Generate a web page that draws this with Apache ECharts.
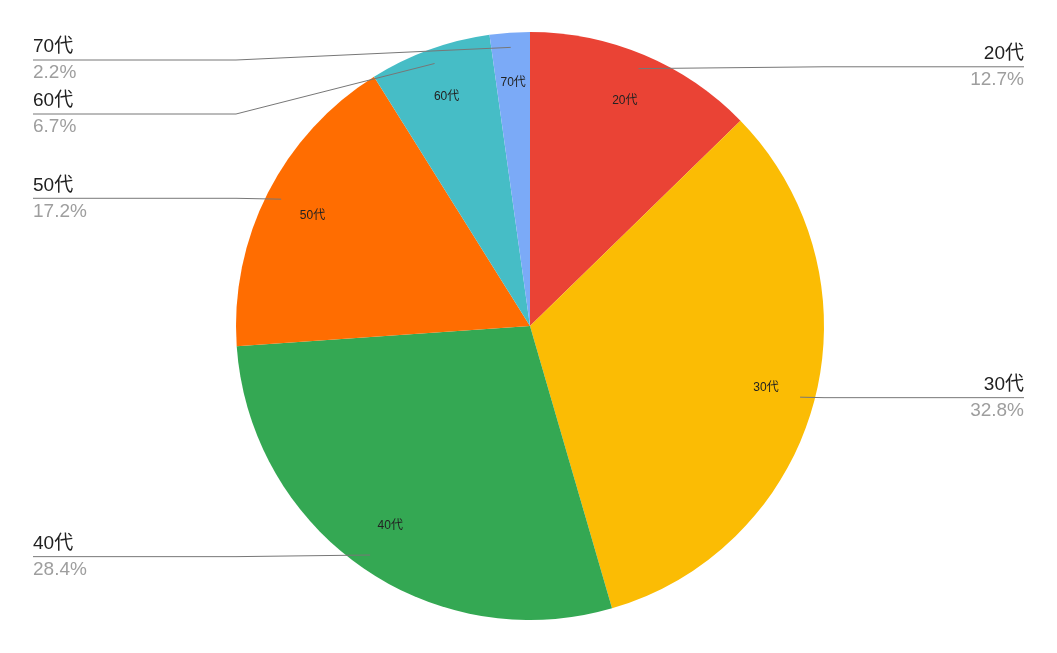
<!DOCTYPE html>
<html>
<head>
<meta charset="utf-8">
<script src="https://cdn.jsdelivr.net/npm/echarts@6/dist/echarts.min.js"></script>
<style>
  html, body { margin: 0; padding: 0; background: #fff; }
  #chart { width: 1057px; height: 653px; }
</style>
</head>
<body>
<div id="chart"></div>
<script>
// 年代別の割合 (%)
const ageGroups = ['20代', '30代', '40代', '50代', '60代', '70代'];
const shares = [12.7, 32.8, 28.4, 17.2, 6.7, 2.2];
const sliceColors = ['#EA4335', '#FBBC04', '#34A853', '#FF6D01', '#46BDC6', '#7BAAF7'];
// 上部で重なるラベルは別レイヤーで積み上げる
const stackedLabels = ['60代', '70代'];

const CX = 530, CY = 326, R = 294;
const LABEL_TOP = 33;
const font = '"Liberation Sans", Arial, "Noto Sans CJK JP", sans-serif';

const pieData = ageGroups.map((name, i) => ({
  name,
  value: shares[i],
  itemStyle: { color: sliceColors[i] }
}));
const ghostData = ageGroups.map((name, i) => ({ name, value: shares[i] }));
const ghostDataFor = (stacked) => ageGroups.map((name, i) => {
  const on = stackedLabels.includes(name) === stacked;
  return {
    name,
    value: shares[i],
    label: { show: on },
    labelLine: { show: on }
  };
});

const chart = echarts.init(document.getElementById('chart'));

// guide line: dot -> pie bbox edge -> under the whole label
function extendGuide(params) {
  const pts = params.labelLinePoints;
  if (!pts) return {};
  const rect = params.labelRect;
  const left = rect.x + rect.width / 2 < CX;
  const start = pts[0];
  const y = rect.y + rect.height / 2;
  const elbowX = left ? Math.min(start[0], CX - R) : Math.max(start[0], CX + R);
  const endX = left ? rect.x : rect.x + rect.width;
  return { labelLinePoints: [start, [elbowX, y], [endX, y]] };
}

const outerLabel = {
  show: true,
  position: 'outside',
  alignTo: 'edge',
  edgeDistance: 33,
  fontFamily: font,
  fontSize: 19,
  lineHeight: 24.5,
  formatter: '{n|{b}}\n{p|{c}%}',
  rich: {
    n: { fontFamily: font, fontSize: 19, color: '#212121', lineHeight: 26 },
    p: { fontFamily: font, fontSize: 19, color: '#9e9e9e', lineHeight: 26 }
  }
};
const outerLine = {
  show: true,
  length: 2,
  length2: 10,
  lineStyle: { color: '#777', width: 1 }
};

function outerSeries(stacked) {
  return {
    type: 'pie',
    z: 5,
    left: 0,
    right: 0,
    top: LABEL_TOP,
    bottom: 0,
    center: [CX, CY - LABEL_TOP],
    radius: R * 0.95,
    startAngle: 90,
    silent: true,
    data: ghostDataFor(stacked),
    itemStyle: { color: 'transparent', borderWidth: 0 },
    label: outerLabel,
    labelLine: outerLine,
    labelLayout: extendGuide
  };
}

chart.setOption({
  backgroundColor: '#fff',
  animation: false,
  series: [
    {
      type: 'pie',
      center: [CX, CY],
      radius: R,
      startAngle: 90,
      silent: true,
      data: pieData,
      label: { show: false },
      labelLine: { show: false },
      itemStyle: { borderWidth: 0 }
    },
    {
      // 内側のラベル
      type: 'pie',
      center: [CX, CY],
      radius: [R * 0.64, R],
      startAngle: 90,
      silent: true,
      data: ghostData,
      itemStyle: { color: 'transparent', borderWidth: 0 },
      label: {
        show: true,
        position: 'inside',
        formatter: '{b}',
        fontFamily: font,
        fontSize: 12,
        color: '#222'
      },
      labelLine: { show: false }
    },
    outerSeries(false),
    outerSeries(true)
  ]
});
</script>
</body>
</html>
